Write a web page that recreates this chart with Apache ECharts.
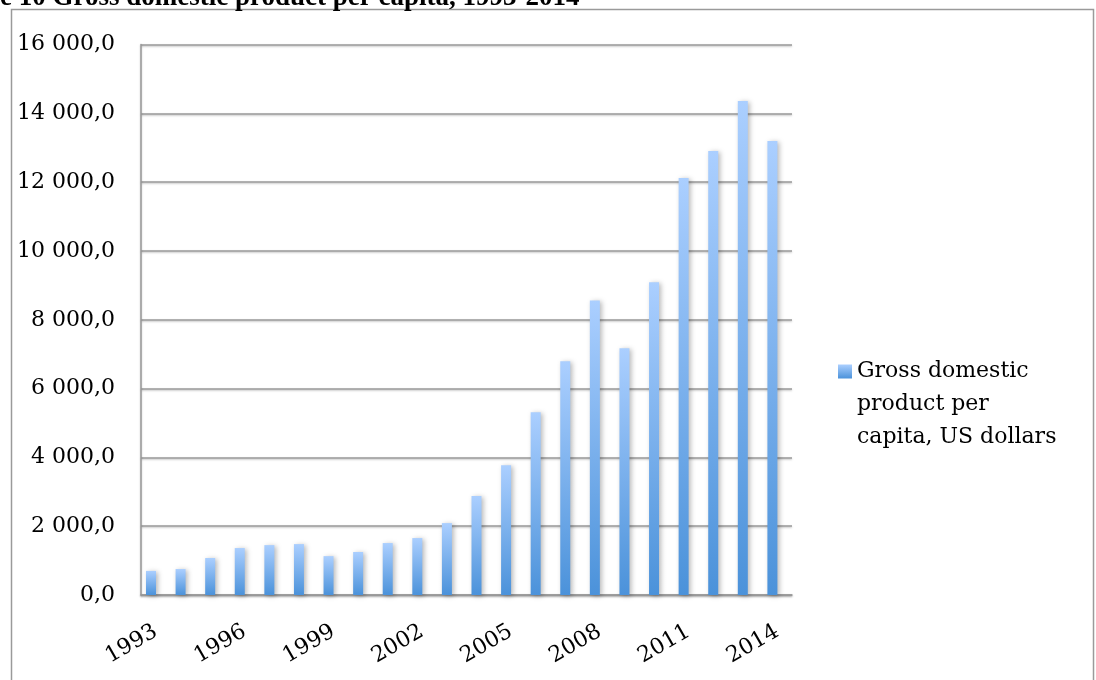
<!DOCTYPE html>
<html>
<head>
<meta charset="utf-8">
<script src="https://cdn.jsdelivr.net/npm/echarts@6/dist/echarts.min.js"></script>
<style>html,body{margin:0;padding:0;background:#fff}#c{width:1096px;height:680px}</style>
</head>
<body>
<div id="c"></div>
<script>
var years = ['1993','1994','1995','1996','1997','1998','1999','2000','2001','2002','2003','2004','2005','2006','2007','2008','2009','2010','2011','2012','2013','2014'];
var gdpPerCapita = [700, 755, 1075, 1365, 1450, 1480, 1130, 1250, 1510, 1655, 2090, 2875, 3775, 5315, 6795, 8560, 7170, 9090, 12120, 12905, 14360, 13200];
var seriesName = 'Gross domestic product per capita, US dollars';
var legendLines = ['Gross domestic', 'product per', 'capita, US dollars'];
var titleText = 'e 10 Gross domestic product per capita, 1993-2014';
var yMin = 0, yMax = 16000, yStep = 2000;

function fmtY(v) {
  return Math.round(v).toString().replace(/\B(?=(\d{3})+(?!\d))/g, ' ') + ',0';
}

var FONT = 'DejaVu Serif';
var gridLine = {color: '#9a9a9a', width: 1.5, shadowBlur: 2, shadowColor: 'rgba(0,0,0,0.25)', shadowOffsetY: 1};

var chart = echarts.init(document.getElementById('c'), null, {renderer: 'canvas'});
chart.setOption({
  animation: false,
  backgroundColor: '#fff',
  graphic: [
    {type: 'rect', z: -10, shape: {x: 11.5, y: 9.5, width: 1082, height: 720},
     style: {fill: 'none', stroke: '#9a9a9a', lineWidth: 1.5}},
    {type: 'text', left: 0, top: -15, z: 10,
     style: {text: titleText, fontFamily: 'Liberation Serif', fontWeight: 'bold', fontSize: 27, fill: '#000'}}
  ],
  grid: {left: 141, right: 304, top: 44.6, bottom: 85},
  legend: {
    left: 833, top: 284,
    data: [seriesName],
    icon: 'rect', itemWidth: 14, itemHeight: 14,
    formatter: function () { return '\n\n' + legendLines.join('\n'); },
    textStyle: {fontFamily: FONT, fontSize: 22, color: '#000', lineHeight: 33}
  },
  xAxis: {
    type: 'category',
    data: years,
    axisLine: {lineStyle: gridLine},
    axisTick: {show: false},
    axisLabel: {interval: 2, rotate: 30, margin: 35, fontFamily: FONT, fontSize: 22, color: '#000'}
  },
  yAxis: {
    type: 'value',
    min: yMin, max: yMax, interval: yStep,
    axisLine: {show: true, lineStyle: gridLine},
    axisTick: {show: false},
    splitLine: {lineStyle: gridLine},
    axisLabel: {margin: 26, fontFamily: FONT, fontSize: 22, color: '#000', formatter: fmtY}
  },
  series: [
    {
      name: seriesName,
      type: 'bar',
      data: gdpPerCapita,
      barWidth: 10,
      barGap: '-4%',
      itemStyle: {
        color: new echarts.graphic.LinearGradient(0, 0, 0, 1, [
          {offset: 0, color: '#abcfff'},
          {offset: 1, color: '#4b92da'}
        ]),
        shadowBlur: 5, shadowOffsetX: 2, shadowOffsetY: 1, shadowColor: 'rgba(0,0,0,0.28)'
      }
    },
    {
      type: 'bar',
      data: years.map(function () { return '-'; }),
      barWidth: 10,
      barGap: '-4%',
      silent: true
    }
  ]
});
</script>
</body>
</html>
